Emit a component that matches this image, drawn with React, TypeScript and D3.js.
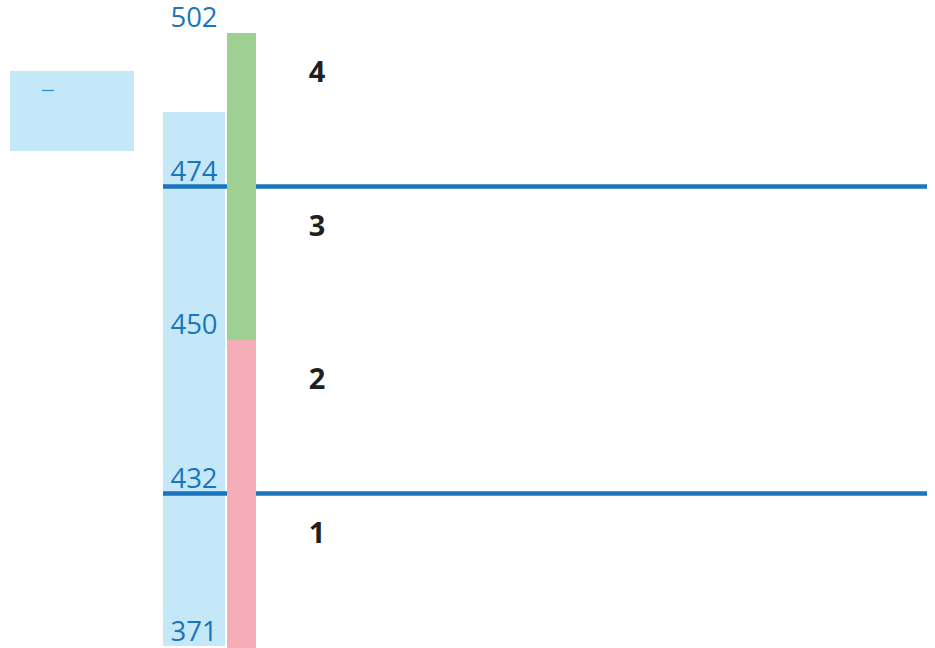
import React, { useEffect, useRef } from 'react';
import * as d3 from 'd3';

// band boundaries (bottom to top) and their labels
const tickValues = [371, 432, 450, 474, 502];
const lineValues = [432, 474];
const bandLabels = ['1', '2', '3', '4'];

// bars: [from, to]
const rangeBar = [371, 487.6];
const upperBar = [450, 502];
const lowerBar = [371, 450];

const W = 935;
const H = 648;

const App: React.FC = () => {
    const svgRef = useRef<SVGSVGElement>(null);

    useEffect(() => {
        if (!svgRef.current) return;
        const svg = d3.select(svgRef.current);
        svg.selectAll('*').remove();

        const top = 33;
        const bottom = 647;
        const step = (bottom - top) / (tickValues.length - 1);

        // piecewise scale: every band gets the same height
        const y = d3.scaleLinear()
            .domain(tickValues)
            .range(tickValues.map((_, i) => bottom - i * step));

        const rangeX = 163, rangeW = 62;
        const barX = 227, barW = 29;
        const lineEnd = 927;

        // legend box
        const legend = svg.append('g');
        legend.append('rect')
            .attr('x', 10).attr('y', 71).attr('width', 124).attr('height', 80)
            .attr('fill', '#c5e8f8');
        legend.append('line')
            .attr('x1', 42).attr('x2', 54).attr('y1', 90.5).attr('y2', 90.5)
            .attr('stroke', '#2a8bd4').attr('stroke-width', 1.2);

        // light blue range bar
        svg.append('rect')
            .attr('x', rangeX).attr('width', rangeW)
            .attr('y', y(rangeBar[1]))
            .attr('height', y(rangeBar[0]) - y(rangeBar[1]) - 1)
            .attr('fill', '#c5e8f8');

        // threshold lines
        svg.selectAll('line.thr')
            .data(lineValues)
            .enter().append('line')
            .attr('class', 'thr')
            .attr('x1', rangeX).attr('x2', lineEnd)
            .attr('y1', d => y(d)).attr('y2', d => y(d))
            .attr('stroke', '#1a75bc')
            .attr('stroke-width', 4.5);

        // stacked bar
        svg.append('rect')
            .attr('x', barX).attr('width', barW)
            .attr('y', y(lowerBar[1]))
            .attr('height', y(lowerBar[0]) - y(lowerBar[1]) + 2)
            .attr('fill', '#f5adb8');
        svg.append('rect')
            .attr('x', barX).attr('width', barW)
            .attr('y', y(upperBar[1]))
            .attr('height', y(upperBar[0]) - y(upperBar[1]))
            .attr('fill', '#9ed094');

        // value labels
        svg.selectAll('text.val')
            .data(tickValues)
            .enter().append('text')
            .attr('class', 'val')
            .attr('x', rangeX + rangeW / 2)
            .attr('y', d => y(d) - 6)
            .attr('text-anchor', 'middle')
            .attr('font-family', '"Open Sans", sans-serif')
            .attr('font-size', 27.5)
            .attr('fill', '#1a75bc')
            .text(d => d);

        // band numbers
        svg.selectAll('text.band')
            .data(bandLabels)
            .enter().append('text')
            .attr('class', 'band')
            .attr('x', 317)
            .attr('y', (_, i) => y(tickValues[i + 1]) + 49)
            .attr('text-anchor', 'middle')
            .attr('font-family', '"Open Sans", sans-serif')
            .attr('font-weight', 700)
            .attr('font-size', 29)
            .attr('fill', '#231f20')
            .text(d => d);
    }, []);

    return (
        <svg
            ref={svgRef}
            width={W}
            height={H}
            style={{ position: 'absolute', left: 0, top: 0, background: '#fff' }}
        />
    );
};

export default App;
